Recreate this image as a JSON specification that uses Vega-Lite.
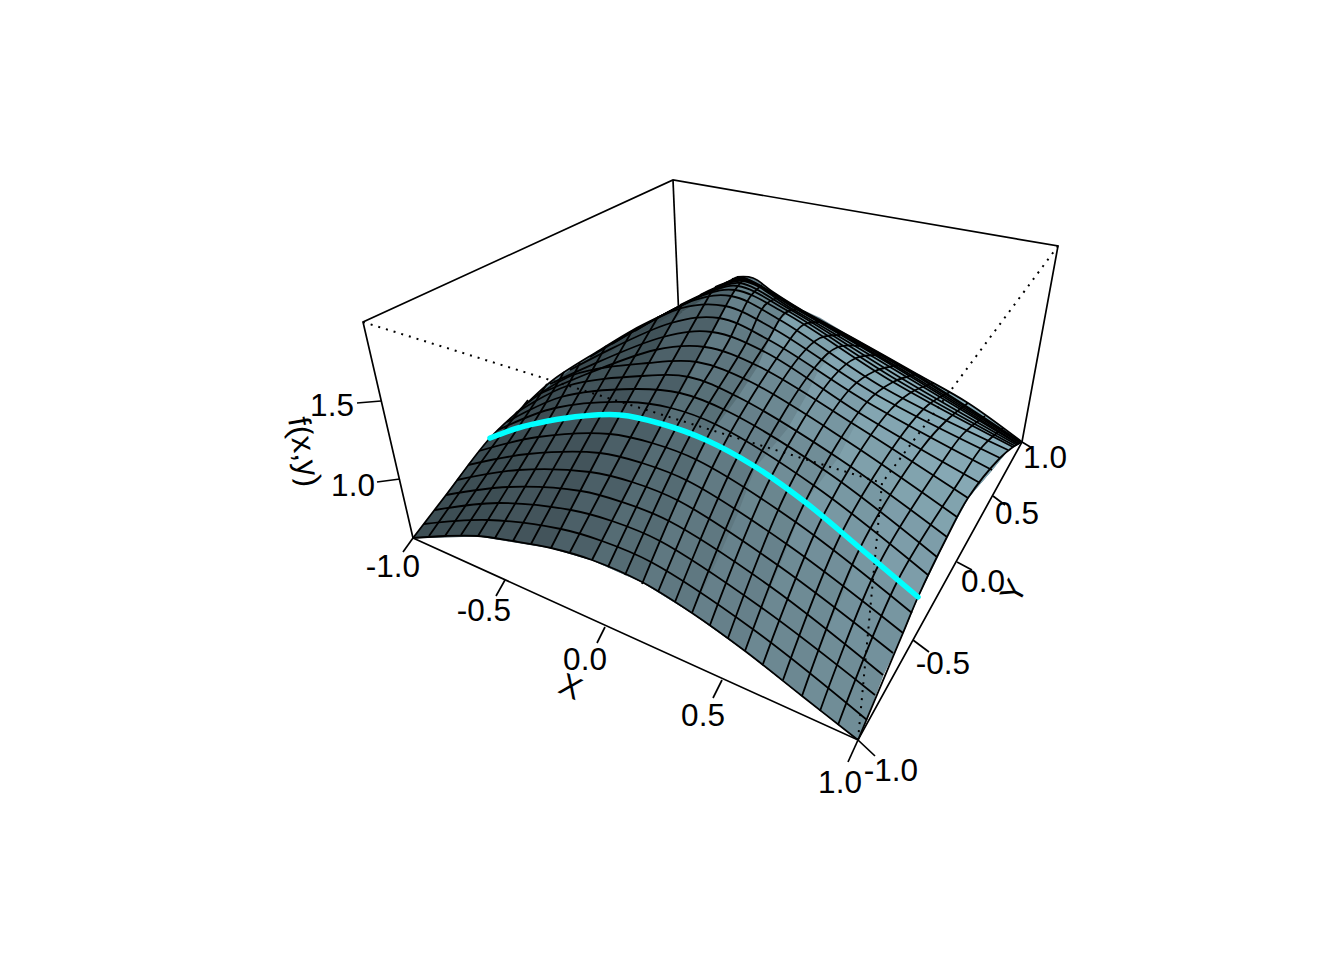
{"$schema":"https://vega.github.io/schema/vega-lite/v6.json","width":1344,"height":960,"padding":0,"autosize":{"type":"fit","contains":"padding"},"background":"white","view":{"stroke":null},
"datasets":{
"box":[{"g":"a","x":[413,363,673,1058,1022,858,413],"y":[538,322,180,246,442,740,538]},{"g":"b","x":[673,679],"y":[180,320]},
{"g":"t1","x":[413,403],"y":[538,552]},{"g":"t2","x":[505,496],"y":[580,596]},{"g":"t3","x":[605,597],"y":[627,643]},{"g":"t4","x":[722,713],"y":[680,698]},{"g":"t5","x":[858,848],"y":[740,762]},
{"g":"u1","x":[858,875],"y":[740,756]},{"g":"u2","x":[913,929],"y":[640,652]},{"g":"u3","x":[957,972],"y":[562,570]},{"g":"u4","x":[993,1005],"y":[496,505]},{"g":"u5","x":[1022,1032],"y":[442,448]},
{"g":"v1","x":[400,377],"y":[479,482]},{"g":"v2","x":[381,357],"y":[401,403]}],
"dot":[{"g":"a","x":[363,882],"y":[322,483]},{"g":"b","x":[1058,882],"y":[246,483]},{"g":"c","x":[858,882],"y":[740,483]}],
"outline":[{"g":"o","x":[413,445,478,513,551,592,642,692,745,802,858,883,903,918,947,968,992,1008,1022,1003,985,950,917,880,853,820,800,773,753,737,677,633,600,553,523,490,468,446],"y":[538,536,536,541,548,560,582,613,651,696,740,675,633,597,537,498,470,450,442,428,416,392,374,355,338,318,309,292,278,277,308,330,350,380,407,438,465,495]}],
"patch":[
{"g":1,"s":0.08,"x":[413,478,508,446],"y":[538,536,487,495]},{"g":2,"s":0.15,"x":[478,551,581,508],"y":[536,548,491,487]},{"g":3,"s":0.27,"x":[551,592,622,581],"y":[548,560,503,491]},{"g":4,"s":0.38,"x":[592,642,669,622],"y":[560,582,521,503]},{"g":5,"s":0.5,"x":[642,692,720,669],"y":[582,613,554,521]},{"g":6,"s":0.58,"x":[692,745,771,720],"y":[613,651,587,554]},{"g":7,"s":0.65,"x":[745,802,827,771],"y":[651,696,631,587]},{"g":8,"s":0.7,"x":[802,858,883,827],"y":[696,740,675,631]},
{"g":9,"s":0.08,"x":[446,508,528,468],"y":[495,487,454,465]},{"g":10,"s":0.15,"x":[508,581,600,528],"y":[487,491,453,454]},{"g":11,"s":0.26,"x":[581,622,642,600],"y":[491,503,463,453]},{"g":12,"s":0.38,"x":[622,669,688,642],"y":[503,521,481,463]},{"g":13,"s":0.5,"x":[669,720,738,688],"y":[521,554,513,481]},{"g":14,"s":0.6,"x":[720,771,788,738],"y":[554,587,545,513]},{"g":15,"s":0.68,"x":[771,827,845,788],"y":[587,631,589,545]},{"g":16,"s":0.74,"x":[827,883,903,845],"y":[631,675,633,589]},
{"g":17,"s":0.07,"x":[468,528,548,490],"y":[465,454,421,438]},{"g":18,"s":0.14,"x":[528,600,620,548],"y":[454,453,415,421]},{"g":19,"s":0.26,"x":[600,642,662,620],"y":[453,463,424,415]},{"g":20,"s":0.38,"x":[642,688,706,662],"y":[463,481,440,424]},{"g":21,"s":0.52,"x":[688,738,755,706],"y":[481,513,468,440]},{"g":22,"s":0.63,"x":[738,788,805,755],"y":[513,545,502,468]},{"g":23,"s":0.72,"x":[788,845,860,805],"y":[545,589,548,502]},{"g":24,"s":0.78,"x":[845,903,918,860],"y":[589,633,597,548]},
{"g":25,"s":0.06,"x":[490,548,567,516],"y":[438,421,386,413]},{"g":26,"s":0.14,"x":[548,620,641,567],"y":[421,415,376,386]},{"g":27,"s":0.26,"x":[620,662,689,641],"y":[415,424,377,376]},{"g":28,"s":0.42,"x":[662,706,738,689],"y":[424,440,397,377]},{"g":29,"s":0.58,"x":[706,755,788,738],"y":[440,468,428,397]},{"g":30,"s":0.7,"x":[755,805,838,788],"y":[468,502,458,428]},{"g":31,"s":0.8,"x":[805,860,892,838],"y":[502,548,497,458]},{"g":32,"s":0.85,"x":[860,918,947,892],"y":[548,597,537,497]},
{"g":33,"s":0.05,"x":[516,567,596,537],"y":[413,386,365,395]},{"g":34,"s":0.12,"x":[567,641,655,596],"y":[386,376,350,365]},{"g":35,"s":0.28,"x":[641,689,705,655],"y":[376,377,347,350]},{"g":36,"s":0.47,"x":[689,738,758,705],"y":[377,397,366,347]},{"g":37,"s":0.65,"x":[738,788,806,758],"y":[397,428,396,366]},{"g":38,"s":0.78,"x":[788,838,855,806],"y":[428,458,425,396]},{"g":39,"s":0.87,"x":[838,892,911,855],"y":[458,497,462,425]},{"g":40,"s":0.9,"x":[892,947,968,911],"y":[497,537,498,462]},
{"g":41,"s":0.05,"x":[537,596,620,570],"y":[395,365,345,370]},{"g":42,"s":0.12,"x":[596,655,671,620],"y":[365,350,323,345]},{"g":43,"s":0.28,"x":[655,705,719,671],"y":[350,347,318,323]},{"g":44,"s":0.52,"x":[705,758,769,719],"y":[347,366,340,318]},{"g":45,"s":0.72,"x":[758,806,818,769],"y":[366,396,371,340]},{"g":46,"s":0.85,"x":[806,855,867,818],"y":[396,425,402,371]},{"g":47,"s":0.92,"x":[855,911,930,867],"y":[425,462,436,402]},{"g":48,"s":0.95,"x":[911,968,992,930],"y":[462,498,470,436]},
{"g":49,"s":0.05,"x":[570,620,650,612],"y":[370,345,328,344]},{"g":50,"s":0.12,"x":[620,671,682,650],"y":[345,323,312,328]},{"g":51,"s":0.3,"x":[671,719,731,682],"y":[323,318,296,312]},{"g":52,"s":0.58,"x":[719,769,780,731],"y":[318,340,320,296]},{"g":53,"s":0.8,"x":[769,818,832,780],"y":[340,371,354,320]},{"g":54,"s":0.92,"x":[818,867,884,832],"y":[371,402,388,354]},{"g":55,"s":0.97,"x":[867,930,946,884],"y":[402,436,419,388]},{"g":56,"s":0.97,"x":[930,992,1008,946],"y":[436,470,450,419]},
{"g":57,"s":0.05,"x":[612,650,695,680],"y":[344,328,300,305]},{"g":58,"s":0.12,"x":[650,682,715,695],"y":[328,312,292,300]},{"g":59,"s":0.32,"x":[682,731,740,715],"y":[312,296,283,292]},{"g":60,"s":0.62,"x":[731,780,791,740],"y":[296,320,310,283]},{"g":61,"s":0.88,"x":[780,832,846,791],"y":[320,354,344,310]},{"g":62,"s":0.97,"x":[832,884,901,846],"y":[354,388,378,344]},{"g":63,"s":1,"x":[884,946,959,901],"y":[388,419,411,378]},{"g":64,"s":1,"x":[946,1008,1017,959],"y":[419,450,445,411]},
{"g":65,"s":0.05,"x":[680,695,745,737],"y":[305,300,278,277]},{"g":66,"s":0.15,"x":[695,715,745,745],"y":[300,292,278,278]},{"g":67,"s":0.35,"x":[715,740,745,745],"y":[292,283,278,278]},{"g":68,"s":0.65,"x":[740,791,800,745],"y":[283,310,309,278]},{"g":69,"s":0.95,"x":[791,846,860,800],"y":[310,344,346,309]},{"g":70,"s":1,"x":[846,901,917,860],"y":[344,378,374,346]},{"g":71,"s":1,"x":[901,959,968,917],"y":[378,411,403,374]},{"g":72,"s":1,"x":[959,1017,1022,968],"y":[411,445,442,403]}],
"mesh":[
{"g":"j0","x":[413,445,478,513,551,592,642,692,745,802,858],"y":[538,536,536,541,548,560,582,613,651,696,740]},
{"g":"j1","x":[424,488,561,602,651,754,867],"y":[524,520,529,541,562,630,720]},
{"g":"j2","x":[435,498,571,612,660,762,875],"y":[510,503,510,521,541,608,695]},
{"g":"j3","x":[446,508,581,622,669,771,883],"y":[495,487,491,502,521,587,675]},
{"g":"j4","x":[457,518,590,632,679,779,893],"y":[480,470,472,482,501,566,653]},
{"g":"j5","x":[468,528,600,642,688,788,903],"y":[465,454,453,463,481,545,633]},
{"g":"j6","x":[479,538,610,652,697,797,912],"y":[451,437,434,443,460,523,613]},
{"g":"j7","x":[490,548,620,662,706,805,918],"y":[438,421,415,424,440,502,597]},
{"g":"j8","x":[498,555,627,671,717,816,928],"y":[430,408,402,408,425,487,575]},
{"g":"j9","x":[507,561,634,680,727,827,937],"y":[422,397,389,393,411,472,557]},
{"g":"j10","x":[516,567,641,689,738,838,947],"y":[413,386,376,377,397,458,537]},
{"g":"j11","x":[526,573,648,697,749,847,957],"y":[404,375,363,362,381,441,517]},
{"g":"j12","x":[537,655,705,758,855,968],"y":[395,350,347,366,425,498]},
{"g":"j13","x":[550,663,712,765,861,980],"y":[384,337,332,352,414,483]},
{"g":"j14","x":[570,671,719,769,867,992],"y":[370,323,318,340,402,470]},
{"g":"j15","x":[590,682,725,774,875,1000],"y":[357,308,306,329,394,458]},
{"g":"j16","x":[612,695,731,780,884,1008],"y":[344,300,296,320,388,450]},
{"g":"j17","x":[635,704,735,785,893,1013],"y":[331,295,290,313,382,447]},
{"g":"j18","x":[657,712,738,788,897,1015],"y":[318,291,286,311,380,446]},
{"g":"j19","x":[680,720,740,791,901,1017],"y":[305,287,283,310,378,445]},
{"g":"j20","x":[700,742,794,905,1018],"y":[295,281,310,376,444]},
{"g":"j21","x":[715,743,796,908,1019],"y":[287,280,309,375,444]},
{"g":"j22","x":[725,744,797,911,1020],"y":[283,279,309,375,443]},
{"g":"j23","x":[732,744,798,913,1021],"y":[279,279,309,374,443]},
{"g":"j24","x":[737,745,799,915,1021],"y":[277,278,309,374,442]},
{"g":"j25","x":[737,753,773,800,853,917,968,1022],"y":[277,278,292,309,338,374,403,442]},
{"g":"sil","x":[413,446,490,523,553,600,633,677,737],"y":[538,495,438,407,380,350,330,308,277]},
{"g":"n1","x":[429,503,528],"y":[536,432,400]},{"g":"n2","x":[445,518,547],"y":[536,428,384]},{"g":"n3","x":[461,533,564],"y":[535,424,372]},{"g":"n4","x":[478,548,580],"y":[536,421,363]},{"g":"n5","x":[495,565,606],"y":[538,418,346]},{"g":"n6","x":[513,583,632],"y":[541,416,331]},{"g":"n7","x":[531,601,658],"y":[544,415,317]},{"g":"n8","x":[551,620,682],"y":[548,415,305]},{"g":"n9","x":[570,641,713],"y":[552,418,289]},
{"g":"i15","x":[592,662,712,735,745],"y":[560,424,332,290,278]},
{"g":"i16","x":[608,676,728,750,762],"y":[567,428,342,297,285]},
{"g":"i17","x":[625,691,745,765,780],"y":[575,434,345,305,297]},
{"g":"i18","x":[642,706,768,785,800],"y":[584,440,340,313,309]},
{"g":"i19","x":[658,722,784,803,820],"y":[592,448,348,325,322]},
{"g":"i20","x":[675,738,800,820,840],"y":[602,456,356,338,335]},
{"g":"i21","x":[692,754,816,838,860],"y":[613,466,366,347,346]},
{"g":"i22","x":[710,771,833,856,880],"y":[625,477,377,358,355]},
{"g":"i23","x":[728,788,850,875,900],"y":[638,489,389,371,365]},
{"g":"i24","x":[745,805,867,893,917],"y":[651,502,402,382,374]},
{"g":"i25","x":[763,823,885,910,934],"y":[664,516,416,393,383]},
{"g":"i26","x":[783,842,904,928,950],"y":[680,532,432,405,392]},
{"g":"i27","x":[802,860,922,947,968],"y":[696,548,448,420,403]},
{"g":"i28","x":[820,879,941,963,985],"y":[711,564,464,434,416]},
{"g":"i29","x":[838,898,960,982,1003],"y":[725,580,480,447,428]},
{"g":"i30","x":[858,903,918,947,968,1000,1013,1022],"y":[740,633,597,537,498,458,447,442]}],
"cyan":[{"g":"c","x":[490,518,548,583,620,662,706,754,805,860,918],"y":[438,428,421,416,415,424,440,466,502,548,597]}],
"labels":[{"t":"-1.0","x":393,"y":568,"a":0},{"t":"-0.5","x":484,"y":612,"a":0},{"t":"0.0","x":585,"y":661,"a":0},{"t":"0.5","x":703,"y":717,"a":0},{"t":"1.0","x":840,"y":784,"a":0},{"t":"-1.0","x":891,"y":772,"a":0},{"t":"-0.5","x":943,"y":665,"a":0},{"t":"0.0","x":983,"y":583,"a":0},{"t":"0.5","x":1017,"y":515,"a":0},{"t":"1.0","x":1045,"y":459,"a":0},{"t":"1.0","x":353,"y":487,"a":0},{"t":"1.5","x":332,"y":407,"a":0},{"t":"f(x,y)","x":303,"y":452,"a":80},{"t":"X","x":570,"y":688,"a":24},{"t":"Y","x":1015,"y":592,"a":-61}]
},
"encoding":{"x":{"field":"x","type":"quantitative","axis":null,"scale":{"domain":[0,1344],"nice":false,"zero":false}},"y":{"field":"y","type":"quantitative","axis":null,"scale":{"domain":[960,0],"nice":false,"zero":false}}},
"layer":[
{"data":{"name":"box"},"transform":[{"flatten":["x","y"]},{"window":[{"op":"row_number","as":"k"}]}],"mark":{"type":"line","color":"black","strokeWidth":1.7,"clip":false},"encoding":{"detail":{"field":"g"},"order":{"field":"k","type":"quantitative"}}},
{"data":{"name":"outline"},"transform":[{"flatten":["x","y"]},{"window":[{"op":"row_number","as":"k"}]}],"mark":{"type":"line","fill":"#607a85","stroke":"#607a85","strokeWidth":0.5},"encoding":{"detail":{"field":"g"},"order":{"field":"k","type":"quantitative"}}},
{"data":{"name":"patch"},"transform":[{"flatten":["x","y"]},{"window":[{"op":"row_number","as":"k"}]}],"mark":{"type":"line","strokeWidth":1},"encoding":{"detail":{"field":"g"},"order":{"field":"k","type":"quantitative"},"fill":{"field":"s","type":"quantitative","legend":null,"scale":{"domain":[0,1],"range":["#37464c","#8aaeba"]}},"stroke":{"field":"s","type":"quantitative","legend":null,"scale":{"domain":[0,1],"range":["#37464c","#8aaeba"]}}}},
{"data":{"name":"mesh"},"transform":[{"flatten":["x","y"]},{"window":[{"op":"row_number","as":"k"}]}],"mark":{"type":"line","color":"black","strokeWidth":1.8,"interpolate":"catmull-rom"},"encoding":{"detail":{"field":"g"},"order":{"field":"k","type":"quantitative"}}},
{"data":{"name":"dot"},"transform":[{"flatten":["x","y"]},{"window":[{"op":"row_number","as":"k"}]}],"mark":{"type":"line","color":"black","strokeWidth":2,"strokeDash":[2,6]},"encoding":{"detail":{"field":"g"},"order":{"field":"k","type":"quantitative"}}},
{"data":{"name":"cyan"},"transform":[{"flatten":["x","y"]},{"window":[{"op":"row_number","as":"k"}]}],"mark":{"type":"line","color":"#00ffff","strokeWidth":5.5,"strokeCap":"round","interpolate":"catmull-rom"},"encoding":{"detail":{"field":"g"},"order":{"field":"k","type":"quantitative"}}},
{"data":{"name":"labels"},"mark":{"type":"text","font":"Liberation Sans","fontSize":31.5,"align":"center","baseline":"middle","color":"black"},"encoding":{"text":{"field":"t"},"angle":{"field":"a","type":"quantitative","scale":null}}}
]}
